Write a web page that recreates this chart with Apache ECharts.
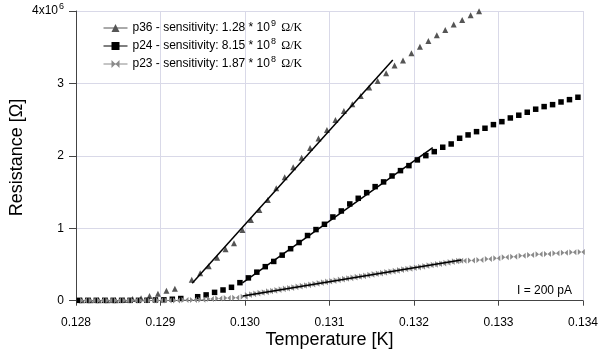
<!DOCTYPE html>
<html>
<head>
<meta charset="utf-8">
<script src="https://cdn.jsdelivr.net/npm/echarts@6/dist/echarts.min.js"></script>
<style>
  html, body { margin: 0; padding: 0; background: #fff; }
  #chart { width: 600px; height: 351px; }
</style>
</head>
<body>
<div id="chart"></div>
<script>
// temperature [K] / resistance [10^6 Ohm]
var p36T = [0.12807,0.12817,0.12827,0.12837,0.12847,0.12857,0.12867,0.12877,0.12887,0.12897,0.12907,0.12917,
    0.12937,0.12947,0.12957,0.12967,0.12977,0.12987,0.12997,0.13007,0.13017,0.13027,0.13037,0.13047,0.13057,0.13067,
    0.13077,0.13087,0.13097,0.13107,0.13117,0.13127,0.13137,0.13147,0.13157,0.13167,0.13177,0.13187,0.13197,0.13207,
    0.13217,0.13227,0.13237,0.13247,0.13257,0.13267,0.13277];
var p36R = [0.005,0.005,0.005,0.005,0.006,0.008,0.025,0.035,0.065,0.097,0.138,0.166,
    0.29,0.378,0.475,0.593,0.71,0.793,0.977,1.115,1.253,1.391,1.552,1.704,1.843,1.975,
    2.109,2.238,2.358,2.496,2.62,2.713,2.827,2.942,3.035,3.141,3.246,3.315,3.417,3.505,
    3.585,3.666,3.739,3.812,3.877,3.942,3.995];

var p24T = [0.12804,0.12814,0.12824,0.12834,0.12844,0.12854,0.12864,0.12874,0.12884,0.12894,0.12904,0.12914,0.12924,
    0.12944,0.12954,0.12964,0.12974,0.12984,0.12994,0.13004,0.13014,0.13024,0.13034,0.13044,0.13054,0.13064,0.13074,
    0.13084,0.13094,0.13104,0.13114,0.13124,0.13134,0.13144,0.13154,0.13164,0.13174,0.13184,0.13194,0.13204,0.13214,
    0.13224,0.13234,0.13244,0.13254,0.13264,0.13274,0.13284,0.13294,0.13304,0.13314,0.13324,0.13334,0.13344,0.13354,
    0.13364,0.13374,0.13384,0.13394];
var p24R = [0.005,0.005,0.005,0.005,0.005,0.005,0.005,0.005,0.006,0.01,0.012,0.02,0.03,
    0.055,0.08,0.115,0.148,0.185,0.249,0.315,0.394,0.47,0.542,0.629,0.718,0.803,0.9,
    0.982,1.055,1.156,1.239,1.336,1.414,1.492,1.575,1.64,1.722,1.796,1.865,1.944,2.003,
    2.058,2.119,2.164,2.243,2.289,2.334,2.381,2.431,2.472,2.523,2.561,2.602,2.644,2.68,
    2.707,2.744,2.776,2.809];

var p23T = [0.12809,0.12819,0.12829,0.12839,0.12849,0.12859,0.12869,0.12879,0.12889,0.12899,0.12909,0.12919,
    0.12929,0.12939,0.12949,0.12959,0.12969,0.12979,0.12989,0.12999,
    0.13004,0.13009,0.13014,0.13019,0.13024,0.13029,0.13034,0.13039,0.13044,0.13049,
    0.13054,0.13059,0.13064,0.13069,0.13074,0.13079,0.13084,0.13089,0.13094,0.13099,
    0.13104,0.13109,0.13114,0.13119,0.13124,0.13129,0.13134,0.13139,0.13144,0.13149,
    0.13154,0.13159,0.13164,0.13169,0.13174,0.13179,0.13184,0.13189,0.13194,0.13199,
    0.13204,0.13209,0.13214,0.13219,0.13224,0.13229,0.13234,0.13239,0.13244,0.13249,0.13254,
    0.13258,0.13268,0.13278,0.13288,0.13298,0.13308,0.13318,0.13328,0.13338,0.13348,0.13358,0.13368,0.13378,
    0.13388,0.13398];
var p23R = [0.004,0.004,0.004,0.004,0.004,0.004,0.004,0.004,0.004,0.004,0.004,0.004,
    0.008,0.01,0.012,0.022,0.03,0.038,0.042,0.055,
    0.079,0.089,0.098,0.110,0.118,0.129,0.137,0.148,0.157,0.167,
    0.176,0.187,0.195,0.206,0.214,0.225,0.234,0.244,0.253,0.264,
    0.273,0.283,0.291,0.302,0.311,0.321,0.330,0.339,0.348,0.358,
    0.367,0.377,0.386,0.395,0.404,0.414,0.423,0.433,0.441,0.451,
    0.460,0.469,0.478,0.488,0.497,0.506,0.515,0.525,0.534,0.543,0.552,
    0.55,0.555,0.562,0.576,0.586,0.6,0.608,0.622,0.631,0.641,0.645,0.655,0.663,
    0.668,0.673];

// linear fits (end points)
var fit36 = [[0.129375, 0.24], [0.131749, 3.325]];
var fit24 = [[0.12997, 0.245], [0.132222, 2.113]];
var fit23 = [[0.129974, 0.065], [0.132559, 0.562]];

var seriesNames = ['p36', 'p24', 'p23'];
var sensText = ['1.28 * 10{sup|9}', '8.15 * 10{sup|8}', '1.87 * 10{sup|8}'];
var yTicks = [0, 1, 2, 3, 4];

var zip = function (xs, ys) {
    return xs.map(function (x, i) { return [x, ys[i]]; });
};

var bowtie = 'path://M0,0 L5,4 L0,8 Z M10,0 L5,4 L10,8 Z';
var font = 'Liberation Sans';

var myChart = echarts.init(document.getElementById('chart'));

var dataSeries = function (name, data, symbol, size, color) {
    return {
        name: name,
        type: 'line',
        data: data,
        symbol: symbol,
        symbolSize: size,
        showSymbol: true,
        itemStyle: { color: color },
        lineStyle: { width: 0, opacity: 0 },
        emphasis: { disabled: true },
        animation: false
    };
};
var fitSeries = function (data) {
    return {
        type: 'line',
        data: data,
        symbol: 'none',
        lineStyle: { color: '#000', width: 1.5 },
        emphasis: { disabled: true },
        animation: false,
        z: 5
    };
};

var option = {
    animation: false,
    textStyle: { fontFamily: font },
    grid: { left: 76, right: 17, top: 11, bottom: 47, outerBoundsMode: 'none' },
    legend: {
        data: seriesNames,
        orient: 'vertical',
        left: 98,
        top: 14,
        itemWidth: 24,
        itemHeight: 10,
        itemGap: 3,
        lineStyle: { width: 1, opacity: 1 },
        textStyle: {
            fontFamily: font, fontSize: 12, color: '#000',
            rich: {
                sup: { fontSize: 9, padding: [0, 0, 9, 1], fontFamily: font },
                om: { fontSize: 12, fontFamily: 'Liberation Serif', padding: [0, 0, 0, 2] }
            }
        },
        formatter: function (name) {
            var i = seriesNames.indexOf(name);
            return name + ' - sensitivity: ' + sensText[i] + ' {om|\u03A9/K}';
        }
    },
    xAxis: {
        type: 'value',
        min: 0.128,
        max: 0.134,
        interval: 0.001,
        name: 'Temperature [K]',
        nameLocation: 'middle',
        nameGap: 27,
        nameMoveOverlap: false,
        nameTextStyle: { fontSize: 18, color: '#000', fontFamily: font, verticalAlign: 'top' },
        axisLine: { show: true, lineStyle: { color: '#444', width: 1 } },
        axisTick: { show: true, length: 5, lineStyle: { color: '#444' } },
        axisLabel: {
            fontSize: 12, color: '#000', margin: 13, fontFamily: font,
            showMinLabel: true, showMaxLabel: true,
            formatter: function (v) { return v.toFixed(3); }
        },
        splitLine: { show: true, lineStyle: { color: '#d9d9e8', width: 1 } }
    },
    yAxis: {
        type: 'value',
        min: -0.0456,
        max: 4,
        name: 'Resistance [\u03A9]',
        nameLocation: 'middle',
        nameGap: 50,
        nameMoveOverlap: false,
        nameTextStyle: { fontSize: 18, color: '#000', fontFamily: font },
        axisLine: { show: true, lineStyle: { color: '#444', width: 1 } },
        axisTick: { show: true, length: 7, customValues: yTicks, lineStyle: { color: '#444' } },
        axisLabel: {
            fontSize: 12, color: '#000', margin: 12, fontFamily: font,
            customValues: yTicks,
            formatter: function (v) { return v === 4 ? '4x10{sup|6}' : String(v); },
            rich: { sup: { fontSize: 9, padding: [0, 0, 9, 1], fontFamily: font } }
        },
        splitLine: { show: true, lineStyle: { color: '#d9d9e8', width: 1 } }
    },
    graphic: [{
        type: 'text',
        right: 28,
        top: 285,
        style: { text: 'I = 200 pA', fontSize: 12, fill: '#000', fontFamily: font }
    }],
    series: [
        dataSeries('p36', zip(p36T, p36R), 'triangle', [6, 6], '#555'),
        dataSeries('p24', zip(p24T, p24R), 'rect', 5.5, '#000'),
        dataSeries('p23', zip(p23T, p23R), bowtie, [7, 6], '#8a8a8a'),
        fitSeries(fit36),
        fitSeries(fit24),
        fitSeries(fit23)
    ]
};

myChart.setOption(option);
</script>
</body>
</html>
